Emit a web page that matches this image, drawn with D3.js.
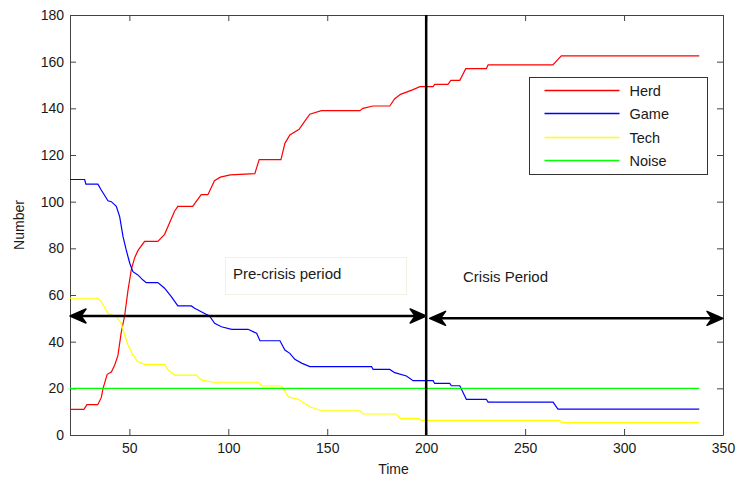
<!DOCTYPE html>
<html>
<head>
<meta charset="utf-8">
<script src="https://cdn.jsdelivr.net/npm/d3@7"></script>
<style>
  body { margin: 0; background: #fff; }
  svg { font-family: Arial, "Liberation Sans", sans-serif; }
</style>
</head>
<body>
<svg></svg>
<script>
// Series data: [time, number]
let herd = [[20,11],[27,11],[28.6,13],[34,13],[35.8,16],[36.7,20],[38.8,26],[40.9,27],[42.6,30],[44.2,34],
  [45.9,44],[47.6,51],[49.3,62],[51,71],[52.7,76],[54.3,79],[57.7,83],[64.4,83],[67.8,86],[72.9,96],
  [74.5,98],[82,98],[86.3,103],[89.7,103],[93,109],[96,110.5],[101,111.5],[113.4,112],[115.6,118],[126.6,118],
  [128.6,125],[131.1,128.6],[135.8,131],[138.2,134],[141.2,137.5],[147,139],[166.5,139],[168,140],[173.2,141],
  [181.6,141],[184,144],[187,146],[193.4,148],[196.8,149.3],[203.5,149.3],[204.3,150.3],[211,150.3],[212.5,152],
  [217,152],[220,157],[230.4,157],[231.3,158.6],[264,158.6],[268.3,162.5],[338,162.5]];

let game = [[20,109.5],[27.4,109.5],[28,107.5],[34.1,107.5],[35.8,105],[39.2,100.4],[40.9,100],[43.4,98],
  [45.1,93.6],[46.8,85],[48.4,79.3],[50.2,73.6],[51.8,70],[54.3,68.6],[56.9,66.4],[58.5,65.3],[64.4,65.3],
  [67.8,62.9],[71.2,59.3],[74.5,55.3],[81.3,55.3],[83,54.3],[88,52.1],[90.5,51],[93.1,47.9],[96.5,46.4],
  [101.7,45.3],[110,45.3],[114.3,43.6],[116,40.4],[126.1,40.4],[128.6,36.4],[131.1,35],[133.6,32.4],
  [137.3,30.7],[141.2,29.3],[172.4,29.3],[173.2,28.1],[181.6,28.1],[184.1,26.7],[190,25.3],[193.4,23.3],
  [203.5,23.3],[204.3,22.1],[211.9,22.1],[212.7,21.1],[217,21.1],[220.3,15.3],[230.4,15.3],[231.3,14.1],
  [264.1,14.1],[266.6,11.1],[338,11.1]];

let tech = [[20,58.6],[34.1,58.6],[35.8,57.1],[39.2,52.1],[43.4,50.7],[45.9,47.9],[47.6,42.9],[49.3,38.6],
  [51.8,34.3],[54.3,31.4],[57.7,30.3],[67.8,30.3],[69.5,27.9],[72.9,25.7],[83.8,25.7],[86.3,23.6],[92.2,22.6],
  [115.1,22.6],[116.8,21],[126.9,21],[130.3,16.4],[135.3,15.3],[141.2,12.1],[147.1,10.4],[166.5,10.4],
  [168.1,9],[185,9],[186.7,7.1],[195.9,7.1],[197.6,6.3],[267.5,6.3],[268.3,5.3],[338,5.3]];

let noise = [[20,20],[338,20]];

let seriesNames = ['Herd', 'Game', 'Tech', 'Noise'];
let seriesColors = ['#ff0000', '#0000ff', '#ffff00', '#00ff00'];

let xTicks = [50, 100, 150, 200, 250, 300, 350];
let yTicks = [0, 20, 40, 60, 80, 100, 120, 140, 160, 180];

// Annotations (data coordinates)
let crisisTime = 200;
let preArrow = [[20, 51], [200, 51]];
let crisisArrow = [[201.7, 50], [350, 50]];

// SVG dimensions
let width = 739, height = 483;
let plotLeft = 70, plotRight = 723, plotTop = 15, plotBottom = 435;

let svg = d3.select('svg').attr('width', width).attr('height', height);

let xScale = d3.scaleLinear().domain([20, 350]).range([plotLeft, plotRight]);
let yScale = d3.scaleLinear().domain([0, 180]).range([plotBottom, plotTop]);

// Axes, MATLAB style: ticks inside, box all round
let axisColor = '#444';
function styleAxis(g) {
  g.select('.domain').attr('stroke', axisColor);
  g.selectAll('.tick line').attr('stroke', axisColor);
  g.selectAll('.tick text').attr('fill', '#1a1a1a').style('font-size', '14px');
}

svg.append('g')
  .attr('transform', `translate(0, ${plotBottom})`)
  .call(d3.axisBottom(xScale).tickValues(xTicks).tickSizeInner(-6).tickSizeOuter(0).tickPadding(8))
  .call(styleAxis);

svg.append('g')
  .attr('transform', `translate(0, ${plotTop})`)
  .call(d3.axisTop(xScale).tickValues(xTicks).tickSizeInner(-6).tickSizeOuter(0).tickFormat(''))
  .call(styleAxis);

svg.append('g')
  .attr('transform', `translate(${plotLeft}, 0)`)
  .call(d3.axisLeft(yScale).tickValues(yTicks).tickSizeInner(-6).tickSizeOuter(0).tickPadding(6))
  .call(styleAxis);

svg.append('g')
  .attr('transform', `translate(${plotRight}, 0)`)
  .call(d3.axisRight(yScale).tickValues(yTicks).tickSizeInner(-6).tickSizeOuter(0).tickFormat(''))
  .call(styleAxis);

// Axis titles
svg.append('text')
  .attr('x', (plotLeft + plotRight) / 2 - 3)
  .attr('y', 474)
  .attr('text-anchor', 'middle')
  .style('font-size', '14px')
  .attr('fill', '#1a1a1a')
  .text('Time');

svg.append('text')
  .attr('transform', `translate(24, ${(plotTop + plotBottom) / 2}) rotate(-90)`)
  .attr('text-anchor', 'middle')
  .style('font-size', '14px')
  .attr('fill', '#1a1a1a')
  .text('Number');

// Lines
let line = d3.line().x((d) => xScale(d[0])).y((d) => yScale(d[1]));
[herd, game, tech, noise].forEach((s, i) => {
  svg.append('path')
    .datum(s)
    .attr('d', line)
    .attr('fill', 'none')
    .attr('stroke', seriesColors[i])
    .attr('stroke-width', 1.2);
});

// Crisis divider
svg.append('line')
  .attr('x1', xScale(crisisTime)).attr('x2', xScale(crisisTime))
  .attr('y1', plotTop).attr('y2', plotBottom)
  .attr('stroke', '#000')
  .attr('stroke-width', 2.5);

// Double arrows
function arrowHead(x, y, dir) {
  // dir = 1 points right, -1 points left
  let l = 16, w = 7, notch = 5;
  return `M${x},${y} L${x - dir * l},${y - w} L${x - dir * (l - notch)},${y} L${x - dir * l},${y + w} Z`;
}
function doubleArrow(p) {
  let x1 = xScale(p[0][0]), x2 = xScale(p[1][0]), y = yScale(p[0][1]);
  svg.append('line')
    .attr('x1', x1 + 4).attr('x2', x2 - 4)
    .attr('y1', y).attr('y2', y)
    .attr('stroke', '#000').attr('stroke-width', 2.5);
  svg.append('path').attr('d', arrowHead(x1, y, -1)).attr('fill', '#000')
    .attr('stroke', '#000').attr('stroke-width', 1.5).attr('stroke-linejoin', 'round');
  svg.append('path').attr('d', arrowHead(x2, y, 1)).attr('fill', '#000')
    .attr('stroke', '#000').attr('stroke-width', 1.5).attr('stroke-linejoin', 'round');
}
doubleArrow(preArrow);
doubleArrow(crisisArrow);

// Period labels
svg.append('rect')
  .attr('x', 225.5).attr('y', 257.5).attr('width', 181).attr('height', 37)
  .attr('fill', 'none').attr('stroke', '#f4f0e0').attr('stroke-width', 1);
svg.append('text')
  .attr('x', 233).attr('y', 279)
  .style('font-size', '15px').attr('fill', '#1a1a1a')
  .text('Pre-crisis period');
svg.append('text')
  .attr('x', 463).attr('y', 282)
  .style('font-size', '15px').attr('fill', '#1a1a1a')
  .text('Crisis Period');

// Legend
let legend = svg.append('g').attr('transform', 'translate(529.5, 77.5)');
legend.append('rect')
  .attr('width', 178).attr('height', 97)
  .attr('fill', '#fff').attr('stroke', '#333').attr('stroke-width', 1);
seriesNames.forEach((name, i) => {
  let y = Math.round(13 + i * 23.4);
  legend.append('line')
    .attr('x1', 15).attr('x2', 90)
    .attr('y1', y).attr('y2', y)
    .attr('stroke', seriesColors[i]).attr('stroke-width', 1.5);
  legend.append('text')
    .attr('x', 100).attr('y', y)
    .attr('dy', '0.35em')
    .style('font-size', '14.5px').attr('fill', '#1a1a1a')
    .text(name);
});
</script>
</body>
</html>
